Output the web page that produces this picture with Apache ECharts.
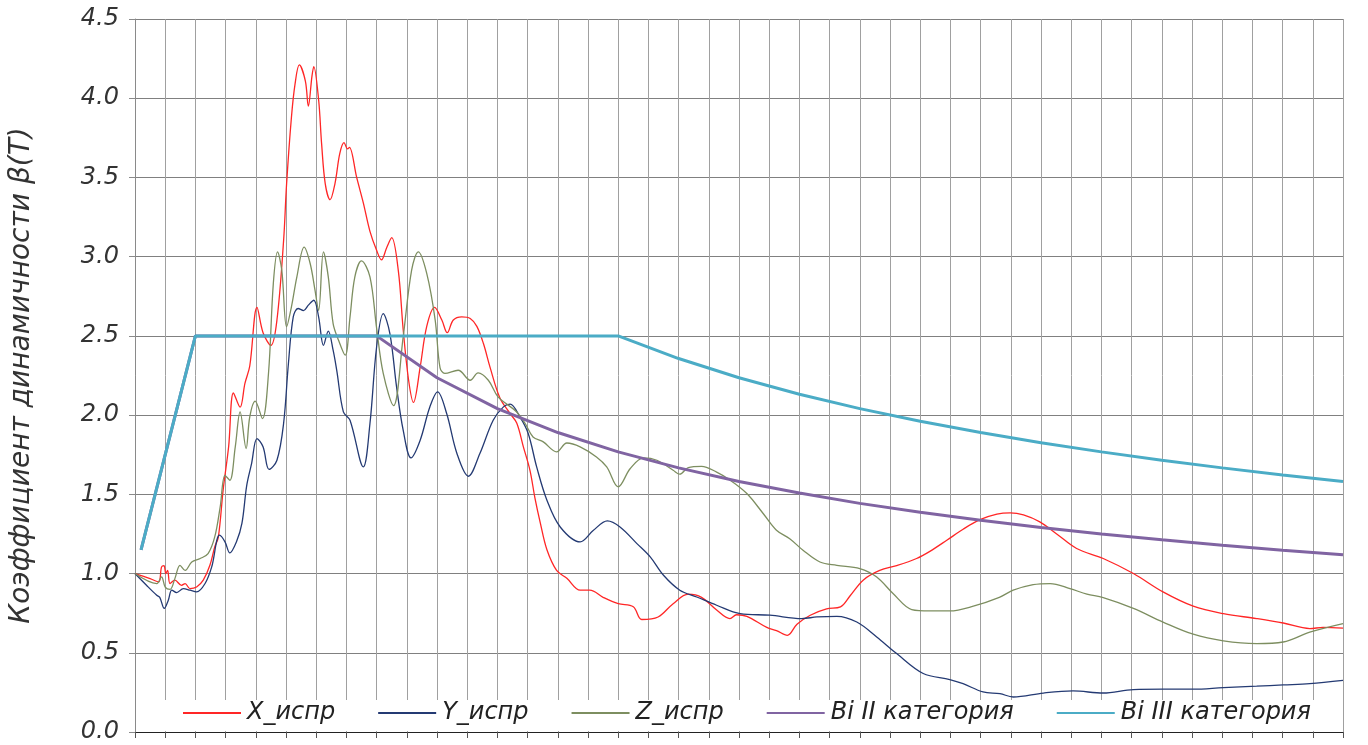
<!DOCTYPE html>
<html>
<head>
<meta charset="utf-8">
<title>Коэффициент динамичности</title>
<script src="https://cdn.jsdelivr.net/npm/echarts@6/dist/echarts.min.js"></script>
<style>
  html, body { margin: 0; padding: 0; background: #fff; }
  #chart { width: 1368px; height: 745px; }
</style>
</head>
<body>
<div id="chart"></div>
<script>
// Period T (s) and dynamic factor
const seriesX = [
  [0, 1.0], [0.025, 0.968], [0.039, 0.947], [0.044, 1.042], [0.048, 1.05], [0.051, 1.0],
  [0.054, 1.02], [0.058, 0.937], [0.066, 0.958], [0.077, 0.926], [0.083, 0.937], [0.091, 0.905],
  [0.102, 0.915], [0.113, 0.958], [0.124, 1.052], [0.132, 1.168], [0.138, 1.23], [0.146, 1.53],
  [0.155, 1.80], [0.163, 2.14], [0.174, 2.05], [0.182, 2.2], [0.19, 2.31], [0.202, 2.68],
  [0.212, 2.52], [0.225, 2.44], [0.235, 2.6], [0.246, 3.1], [0.251, 3.46], [0.259, 3.88],
  [0.265, 4.09], [0.272, 4.21], [0.282, 4.11], [0.287, 3.95], [0.293, 4.14], [0.296, 4.2],
  [0.304, 3.99], [0.309, 3.71], [0.315, 3.46], [0.323, 3.36], [0.331, 3.46], [0.339, 3.65],
  [0.346, 3.72], [0.352, 3.68], [0.355, 3.69], [0.367, 3.5], [0.378, 3.34], [0.389, 3.16],
  [0.4, 3.04], [0.408, 2.98], [0.417, 3.06], [0.425, 3.12], [0.436, 2.91], [0.444, 2.54],
  [0.453, 2.22], [0.461, 2.08], [0.472, 2.3], [0.483, 2.56], [0.496, 2.68], [0.508, 2.6],
  [0.517, 2.52], [0.527, 2.6], [0.541, 2.62], [0.555, 2.61], [0.566, 2.56], [0.577, 2.45],
  [0.588, 2.3], [0.604, 2.11], [0.621, 2.01], [0.632, 1.95], [0.643, 1.8], [0.654, 1.65],
  [0.662, 1.48], [0.671, 1.32], [0.682, 1.15], [0.698, 1.02], [0.715, 0.97], [0.737, 0.895],
  [0.753, 0.895], [0.775, 0.85], [0.8, 0.81], [0.825, 0.79], [0.839, 0.71], [0.866, 0.726],
  [0.891, 0.81], [0.916, 0.87], [0.938, 0.85], [0.963, 0.77], [0.985, 0.716], [0.996, 0.74],
  [1.013, 0.73], [1.046, 0.66], [1.062, 0.64], [1.08, 0.61], [1.096, 0.68], [1.118, 0.737],
  [1.145, 0.777], [1.168, 0.79], [1.184, 0.86], [1.206, 0.96], [1.233, 1.02], [1.261, 1.05],
  [1.294, 1.095], [1.316, 1.14], [1.344, 1.21], [1.371, 1.28], [1.399, 1.34], [1.427, 1.375],
  [1.449, 1.383], [1.471, 1.37], [1.498, 1.326], [1.526, 1.25], [1.559, 1.158], [1.603, 1.095],
  [1.653, 1.0], [1.702, 0.884], [1.752, 0.794], [1.802, 0.747], [1.857, 0.716], [1.901, 0.688],
  [1.945, 0.653], [1.967, 0.66], [2.0, 0.655]
];

const seriesY = [
  [0, 1.0], [0.019, 0.926], [0.036, 0.863], [0.041, 0.85], [0.0485, 0.78], [0.055, 0.83],
  [0.061, 0.895], [0.069, 0.88], [0.08, 0.905], [0.091, 0.895], [0.102, 0.884], [0.116, 0.937],
  [0.127, 1.042], [0.14, 1.242], [0.149, 1.2], [0.157, 1.13], [0.168, 1.2], [0.177, 1.316],
  [0.185, 1.557], [0.193, 1.694], [0.202, 1.852], [0.212, 1.8], [0.222, 1.657], [0.235, 1.715],
  [0.246, 1.947], [0.254, 2.326], [0.262, 2.62], [0.27, 2.673], [0.279, 2.66], [0.287, 2.694],
  [0.296, 2.725], [0.304, 2.62], [0.312, 2.44], [0.32, 2.53], [0.328, 2.41], [0.334, 2.283],
  [0.345, 2.02], [0.356, 1.968], [0.378, 1.673], [0.389, 1.947], [0.4, 2.43], [0.411, 2.64],
  [0.422, 2.515], [0.433, 2.18], [0.444, 1.905], [0.457, 1.73], [0.472, 1.84], [0.488, 2.05],
  [0.501, 2.147], [0.516, 2.01], [0.533, 1.758], [0.552, 1.614], [0.571, 1.758], [0.593, 1.968],
  [0.61, 2.052], [0.621, 2.069], [0.637, 1.99], [0.651, 1.884], [0.665, 1.673], [0.682, 1.463],
  [0.704, 1.294], [0.737, 1.2], [0.759, 1.273], [0.782, 1.332], [0.803, 1.294], [0.831, 1.189],
  [0.853, 1.105], [0.875, 0.989], [0.902, 0.895], [0.93, 0.852], [0.963, 0.8], [1.002, 0.747],
  [1.051, 0.737], [1.104, 0.716], [1.129, 0.726], [1.162, 0.73], [1.195, 0.694], [1.228, 0.6],
  [1.261, 0.495], [1.305, 0.369], [1.349, 0.331], [1.371, 0.305], [1.404, 0.253], [1.432, 0.242],
  [1.454, 0.221], [1.504, 0.246], [1.553, 0.259], [1.603, 0.246], [1.653, 0.268], [1.702, 0.27],
  [1.752, 0.27], [1.802, 0.28], [1.857, 0.289], [1.901, 0.297], [1.945, 0.305], [2.0, 0.326]
];

const seriesZ = [
  [0, 1.0], [0.036, 0.937], [0.044, 0.979], [0.05, 0.915], [0.058, 0.9], [0.066, 0.968],
  [0.0745, 1.052], [0.083, 1.02], [0.094, 1.073], [0.108, 1.095], [0.121, 1.126], [0.132, 1.231],
  [0.141, 1.42], [0.149, 1.62], [0.157, 1.589], [0.166, 1.8], [0.174, 2.02], [0.184, 1.789],
  [0.19, 1.989], [0.199, 2.088], [0.211, 1.978], [0.221, 2.263], [0.229, 2.83], [0.236, 3.03],
  [0.243, 2.915], [0.251, 2.557], [0.259, 2.683], [0.268, 2.873], [0.28, 3.06], [0.29, 2.957],
  [0.298, 2.789], [0.304, 2.66], [0.312, 3.03], [0.32, 2.873], [0.328, 2.578], [0.337, 2.473],
  [0.348, 2.378], [0.356, 2.62], [0.364, 2.873], [0.375, 2.973], [0.389, 2.873], [0.4, 2.55],
  [0.411, 2.263], [0.428, 2.06], [0.444, 2.494], [0.458, 2.915], [0.469, 3.03], [0.483, 2.894],
  [0.497, 2.6], [0.505, 2.3], [0.513, 2.263], [0.535, 2.283], [0.555, 2.22], [0.568, 2.266],
  [0.585, 2.22], [0.601, 2.115], [0.618, 2.063], [0.632, 2.02], [0.646, 1.947], [0.659, 1.862],
  [0.676, 1.831], [0.698, 1.768], [0.715, 1.824], [0.737, 1.8], [0.764, 1.736], [0.781, 1.673],
  [0.8, 1.547], [0.82, 1.663], [0.842, 1.73], [0.864, 1.715], [0.891, 1.652], [0.902, 1.627],
  [0.916, 1.669], [0.938, 1.677], [0.963, 1.64], [0.985, 1.59], [1.013, 1.505], [1.04, 1.379],
  [1.062, 1.273], [1.084, 1.22], [1.106, 1.147], [1.134, 1.073], [1.162, 1.052], [1.2, 1.031],
  [1.228, 0.978], [1.255, 0.874], [1.286, 0.773], [1.316, 0.764], [1.349, 0.764], [1.388, 0.794],
  [1.431, 0.85], [1.454, 0.895], [1.487, 0.93], [1.515, 0.937], [1.548, 0.905], [1.576, 0.87],
  [1.603, 0.848], [1.653, 0.78], [1.702, 0.694], [1.752, 0.617], [1.802, 0.575], [1.857, 0.558],
  [1.901, 0.568], [1.945, 0.63], [2.0, 0.684]
];

// Normative spectra (soil categories II and III)
const seriesBiII = [
  [0.01, 1.15], [0.1, 2.5], [0.4, 2.5], [0.5, 2.236], [0.6, 2.041], [0.7, 1.89], [0.8, 1.768],
  [0.9, 1.667], [1.0, 1.581], [1.1, 1.508], [1.2, 1.443], [1.3, 1.387], [1.4, 1.336],
  [1.5, 1.291], [1.6, 1.25], [1.7, 1.213], [1.8, 1.179], [1.9, 1.147], [2.0, 1.118]
];
const seriesBiIII = [
  [0.01, 1.15], [0.1, 2.5], [0.8, 2.5], [0.9, 2.357], [1.0, 2.236], [1.1, 2.132], [1.2, 2.041],
  [1.3, 1.961], [1.4, 1.89], [1.5, 1.826], [1.6, 1.768], [1.7, 1.715], [1.8, 1.667],
  [1.9, 1.622], [2.0, 1.581]
];

const seriesNames = ['X_испр', 'Y_испр', 'Z_испр', 'Bi II категория', 'Bi III категория'];
const seriesColors = ['#ff2626', '#243a73', '#7d8e60', '#8064a2', '#4bacc6'];
const yAxisName = 'Коэффициент динамичности β(T)';

const FONT = 'DejaVu Sans';

const chart = echarts.init(document.getElementById('chart'), null, { renderer: 'canvas' });

const thinLine = (name, data, color) => ({
  name,
  type: 'line',
  data,
  smooth: 0.35,
  symbol: 'none',
  animation: false,
  lineStyle: { width: 1.3, color },
  itemStyle: { color }
});

const thickLine = (name, data, color) => ({
  name,
  type: 'line',
  data,
  symbol: 'none',
  animation: false,
  lineStyle: { width: 3, color },
  itemStyle: { color }
});

chart.setOption({
  backgroundColor: '#fff',
  animation: false,
  grid: { left: 135, right: 25, top: 19, bottom: 13 },
  xAxis: {
    type: 'value',
    min: 0,
    max: 2,
    interval: 0.05,
    axisLine: { show: true, onZero: false, lineStyle: { color: '#222', width: 1 } },
    axisTick: { show: true, length: 6, lineStyle: { color: '#555' } },
    axisLabel: { show: false },
    splitLine: { show: true, lineStyle: { color: '#a0a0a0', width: 1 } }
  },
  yAxis: {
    type: 'value',
    min: 0,
    max: 4.5,
    interval: 0.5,
    name: yAxisName,
    nameLocation: 'middle',
    nameGap: 99,
    nameTextStyle: { fontFamily: FONT, fontStyle: 'italic', fontSize: 28, color: '#333' },
    axisLine: { show: true, lineStyle: { color: '#8a8a8a' } },
    axisTick: { show: true, length: 6, lineStyle: { color: '#8a8a8a' } },
    axisLabel: {
      margin: 16,
      fontFamily: FONT,
      fontStyle: 'italic',
      fontSize: 24,
      color: '#333',
      formatter: v => v.toFixed(1)
    },
    splitLine: { show: true, lineStyle: { color: '#808080', width: 1 } }
  },
  legend: {
    data: seriesNames,
    left: 150,
    top: 700,
    backgroundColor: '#fff',
    padding: [0, 12, 5, 32],
    itemWidth: 58,
    itemHeight: 14,
    itemGap: 42,
    itemStyle: { opacity: 0 },
    textStyle: {
      fontFamily: FONT,
      fontStyle: 'italic',
      fontSize: 24,
      lineHeight: 26,
      color: '#222',
      padding: [0, 0, 0, 1]
    }
  },
  series: [
    thinLine(seriesNames[0], seriesX, seriesColors[0]),
    thinLine(seriesNames[1], seriesY, seriesColors[1]),
    thinLine(seriesNames[2], seriesZ, seriesColors[2]),
    thickLine(seriesNames[3], seriesBiII, seriesColors[3]),
    thickLine(seriesNames[4], seriesBiIII, seriesColors[4])
  ]
});
</script>
</body>
</html>
